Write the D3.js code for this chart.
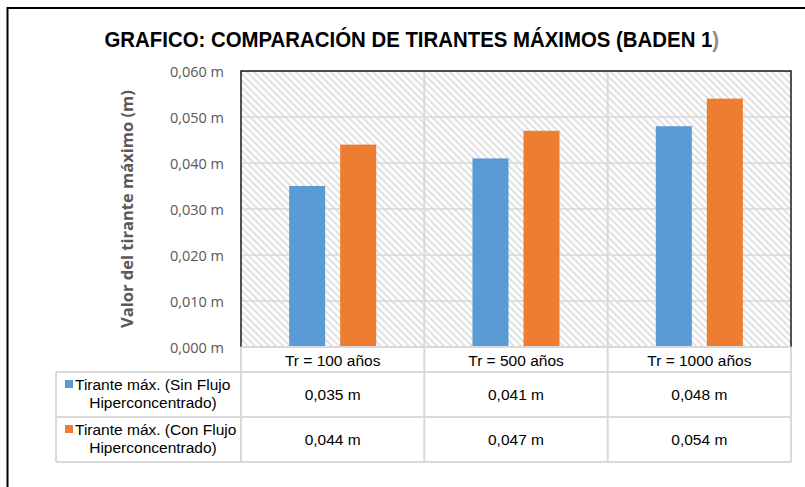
<!DOCTYPE html>
<html>
<head>
<meta charset="utf-8">
<script src="https://cdn.jsdelivr.net/npm/d3@7"></script>
<style>
  html, body { margin: 0; padding: 0; background: #ffffff; }
  svg { display: block; }
</style>
</head>
<body>
<svg id="chart" width="805" height="487"></svg>
<script>
// Data
const categories = ["Tr = 100 años", "Tr = 500 años", "Tr = 1000 años"];
const seriesNames = [
  ["Tirante máx. (Sin Flujo", "Hiperconcentrado)"],
  ["Tirante máx. (Con Flujo", "Hiperconcentrado)"]
];
const sinFlujo = [0.035, 0.041, 0.048];
const conFlujo = [0.044, 0.047, 0.054];
const yTicks = [0, 0.01, 0.02, 0.03, 0.04, 0.05, 0.06];
const colors = ["#5B9BD5", "#ED7D31"];
const titleText = "GRAFICO: COMPARACIÓN DE TIRANTES MÁXIMOS (BADEN 1";

const series = [sinFlujo, conFlujo];

const svg = d3.select("#chart");
const esLocale = d3.formatLocale({ decimal: ",", thousands: ".", grouping: [3], currency: ["", " €"] });
const fmt = v => esLocale.format(".3f")(v) + " m";

// Layout
const plot = { left: 241, right: 791, top: 71, bottom: 347 };
const table = { left: 56, headerBottom: 372, rowH: 45 };
const gridColor = "#d9d9d9";
const tfont = "Liberation Sans, Arial, sans-serif";
const tsize = 15.5;

// Outer frame (left and top edges)
svg.append("path")
  .attr("d", "M7.5,487 L7.5,8 L805,8")
  .attr("fill", "none").attr("stroke", "#000").attr("stroke-width", 2);

// Title, condensed horizontally to fit its span
const titleG = svg.append("g");
const title = titleG.append("text")
  .attr("x", 0).attr("y", 0)
  .attr("font-family", tfont)
  .attr("font-weight", "bold").attr("font-size", 22)
  .attr("fill", "#000");
title.append("tspan").text(titleText);
title.append("tspan").attr("fill", "#8c8c8c").text(")");
const tw = title.node().getComputedTextLength();
const titleW = 615;
titleG.attr("transform", `translate(${412 - titleW / 2},47) scale(${titleW / tw},1)`);

// Scales
const x = d3.scaleBand().domain(categories).range([plot.left, plot.right]).padding(0);
const xInner = d3.scaleBand().domain(d3.range(series.length))
  .range([0, x.bandwidth()]).paddingInner(0.294).paddingOuter(0.944);
const y = d3.scaleLinear().domain([0, 0.06]).range([plot.bottom, plot.top]);

// Hatched plot background
const defs = svg.append("defs");
const pat = defs.append("pattern")
  .attr("id", "hatch").attr("patternUnits", "userSpaceOnUse")
  .attr("width", 7).attr("height", 7);
pat.append("rect").attr("width", 7).attr("height", 7).attr("fill", "#ffffff");
pat.append("path")
  .attr("d", "M-1,-1 L8,8 M-8,-1 L1,8 M6,-1 L15,8")
  .attr("stroke", "#e2e2e2").attr("stroke-width", 2);

svg.append("rect")
  .attr("x", plot.left).attr("y", plot.top)
  .attr("width", plot.right - plot.left).attr("height", plot.bottom - plot.top)
  .attr("fill", "url(#hatch)");

// Horizontal gridlines
svg.append("g").selectAll("line").data(yTicks.slice(1)).join("line")
  .attr("x1", plot.left).attr("x2", plot.right)
  .attr("y1", d => y(d)).attr("y2", d => y(d))
  .attr("stroke", gridColor).attr("stroke-width", 1.5);

// Vertical category separators (through plot and table)
const tableBottom = table.headerBottom + table.rowH * series.length;
svg.append("g").selectAll("line").data(categories.slice(1)).join("line")
  .attr("x1", d => x(d)).attr("x2", d => x(d))
  .attr("y1", plot.top).attr("y2", tableBottom)
  .attr("stroke", gridColor).attr("stroke-width", 2);

// Bars
series.forEach((vals, si) => {
  svg.append("g").selectAll("rect").data(vals).join("rect")
    .attr("x", (d, i) => x(categories[i]) + xInner(si))
    .attr("y", d => y(d))
    .attr("width", xInner.bandwidth())
    .attr("height", d => y(0) - y(d))
    .attr("fill", colors[si]);
});

// Plot border (left, top, right)
svg.append("path")
  .attr("d", `M${plot.left},${plot.bottom} L${plot.left},${plot.top} L${plot.right},${plot.top} L${plot.right},${plot.bottom}`)
  .attr("fill", "none").attr("stroke", "#1a1a1a").attr("stroke-width", 1.5);

// Y axis tick labels
const yAxis = d3.axisLeft(y).tickValues(yTicks).tickFormat(fmt).tickSize(0).tickPadding(0);
const gy = svg.append("g").attr("transform", "translate(224,0)").call(yAxis);
gy.select(".domain").remove();
gy.selectAll("text")
  .attr("font-family", "Open Sans, sans-serif").attr("font-size", 14.5)
  .attr("fill", "#595959").attr("dy", "0.36em");

// Y axis title
svg.append("text")
  .attr("transform", `translate(133,${(plot.top + plot.bottom) / 2}) rotate(-90)`)
  .attr("text-anchor", "middle")
  .attr("font-family", "Open Sans, sans-serif").attr("font-weight", "bold")
  .attr("font-size", 16.5).attr("fill", "#595959")
  .text("Valor del tirante máximo (m)");

// Data table lines
const tl = svg.append("g").attr("stroke", gridColor).attr("stroke-width", 2).attr("fill", "none");
tl.append("line").attr("x1", plot.left).attr("x2", plot.right).attr("y1", plot.bottom).attr("y2", plot.bottom);
d3.range(series.length + 1).forEach(r => {
  const yy = table.headerBottom + r * table.rowH;
  tl.append("line").attr("x1", table.left).attr("x2", plot.right).attr("y1", yy).attr("y2", yy);
});
tl.append("line").attr("x1", table.left).attr("x2", table.left).attr("y1", table.headerBottom).attr("y2", tableBottom);
[plot.left, plot.right].forEach(xx => {
  tl.append("line").attr("x1", xx).attr("x2", xx).attr("y1", plot.bottom).attr("y2", tableBottom);
});

// Category headers
svg.append("g").selectAll("text").data(categories).join("text")
  .attr("x", d => x(d) + x.bandwidth() / 2).attr("y", 366)
  .attr("text-anchor", "middle").attr("font-family", tfont).attr("font-size", tsize)
  .attr("fill", "#000").text(d => d);

// Rows: legend key + values
series.forEach((vals, si) => {
  const rowTop = table.headerBottom + si * table.rowH;
  const g = svg.append("g");
  g.append("rect")
    .attr("x", 65).attr("y", rowTop + 8).attr("width", 8).attr("height", 8)
    .attr("fill", colors[si]);
  g.append("text")
    .attr("x", 75).attr("y", rowTop + 18)
    .attr("font-family", tfont).attr("font-size", tsize).attr("fill", "#000")
    .text(seriesNames[si][0]);
  g.append("text")
    .attr("x", 153).attr("y", rowTop + 36).attr("text-anchor", "middle")
    .attr("font-family", tfont).attr("font-size", tsize).attr("fill", "#000")
    .text(seriesNames[si][1]);
  g.selectAll("text.val").data(vals).join("text").attr("class", "val")
    .attr("x", (d, i) => x(categories[i]) + x.bandwidth() / 2)
    .attr("y", rowTop + 28).attr("text-anchor", "middle")
    .attr("font-family", tfont).attr("font-size", tsize).attr("fill", "#000")
    .text(d => fmt(d));
});
</script>
</body>
</html>
